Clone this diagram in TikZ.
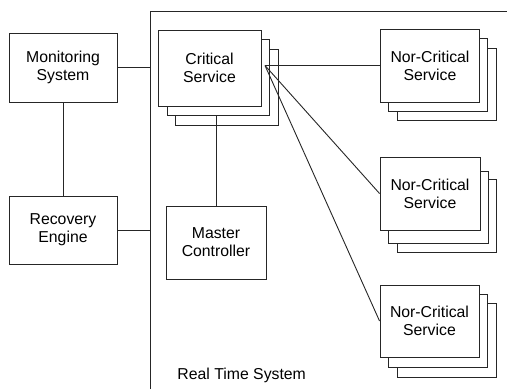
\documentclass[tikz,border=0pt]{standalone}
\usepackage{fontspec}
\setmainfont{Liberation Sans}
\begin{document}
\begin{tikzpicture}[x=1pt,y=-1pt,
  line width=0.9pt,
  conn/.style={draw=black!85},
  panel/.style={draw=black!85, fill=white, inner sep=0pt, align=center,
    font=\fontsize{15.8}{18}\selectfont},
  ghost/.style={draw=black!85, fill=white, inner sep=0pt}]
\useasboundingbox (0,0) rectangle (507,389);
% frame
\coordinate (ftop) at (150,11);
\coordinate (fbot) at (150,389);
\coordinate (fright) at (507,11);
\draw[conn] (fbot) -- (ftop) -- (fright);
\node[anchor=base west, inner sep=0pt, font=\fontsize{15.8}{18}\selectfont] (rts) at (177,379) {Real Time System};

% left boxes
\node[panel, minimum width=108, minimum height=69] (mon) at (63,67.5) {Monitoring\\System};
\node[panel, minimum width=108, minimum height=68] (rec) at (63,230) {Recovery\\Engine};
\draw[conn] (mon.south) -- (rec.north);
\draw[conn] (mon.east) -- (mon.east -| ftop);
\draw[conn] (rec.east) -- (rec.east -| ftop);

% critical service stack
\node[ghost, minimum width=103, minimum height=76] (crit3) at (226.5,87) {};
\node[ghost, minimum width=102, minimum height=76] (crit2) at (218,77) {};
\node[panel, minimum width=103, minimum height=76] (crit) at (209.5,68) {Critical\\Service};

% master controller
\node[panel, minimum width=100, minimum height=73] (mc) at (216,242.5) {Master\\Controller};
\draw[conn] (mc.north) -- (mc.north |- crit2.south);

% non-critical stacks
\node[ghost, minimum width=99, minimum height=72] (nca3) at (446.5,84) {};
\node[ghost, minimum width=99, minimum height=73] (nca2) at (438,74.5) {};
\node[panel, minimum width=99, minimum height=73] (nca) at (430,65.5) {Nor-Critical\\Service};

\node[ghost, minimum width=99, minimum height=73] (ncb3) at (446.5,215.5) {};
\node[ghost, minimum width=100, minimum height=72] (ncb2) at (438,207) {};
\node[panel, minimum width=100, minimum height=73] (ncb) at (430,193.5) {Nor-Critical\\Service};

\node[ghost, minimum width=99, minimum height=74] (ncc3) at (446.5,340) {};
\node[ghost, minimum width=99, minimum height=73] (ncc2) at (438,330.5) {};
\node[panel, minimum width=99, minimum height=72] (ncc) at (429.5,321) {Nor-Critical\\Service};

% connectors from critical service
\coordinate (hub) at (265,65.5);
\draw[conn] (hub) -- (nca.west);
\draw[conn] (hub) -- (ncb.west);
\draw[conn] (hub) -- (ncc.west);
\end{tikzpicture}
\end{document}
